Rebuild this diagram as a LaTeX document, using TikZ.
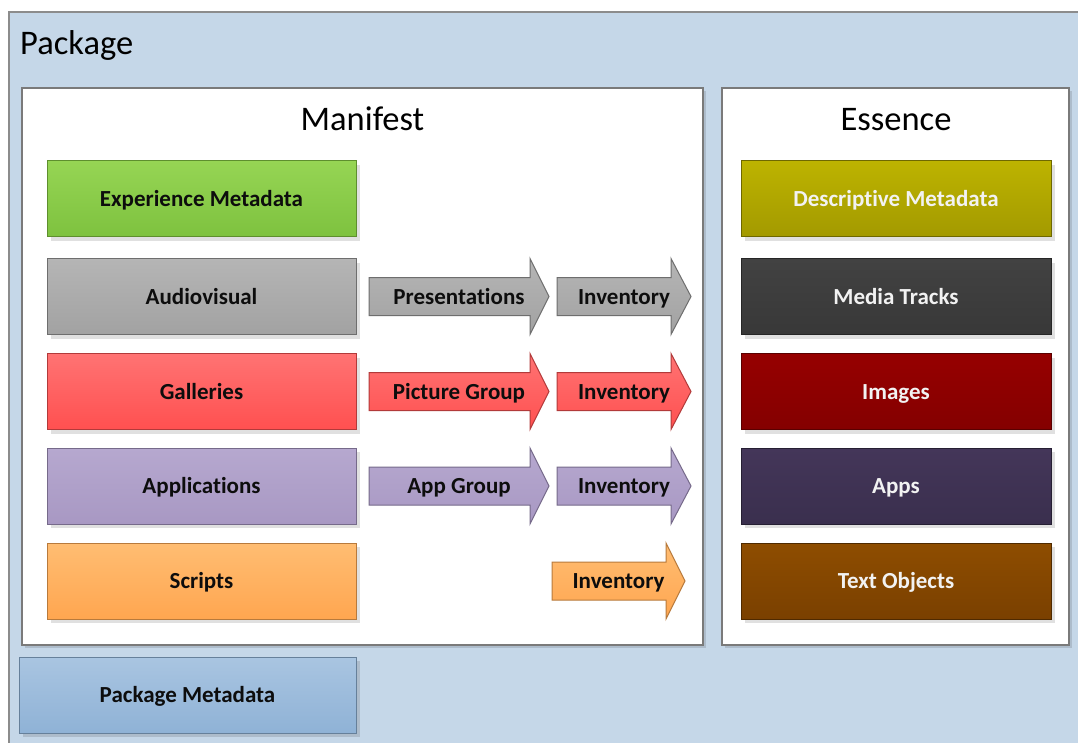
\documentclass[tikz,border=0pt]{standalone}
\usepackage{fontspec}
\setmainfont{Carlito}[Ligatures=NoCommon]
\usetikzlibrary{shadows}
\definecolor{pkgbg}{HTML}{C5D7E8}
\definecolor{pkgline}{HTML}{8C8C8C}
\definecolor{boxline}{HTML}{7A7A7A}
% left column
\definecolor{expT}{HTML}{96D554}\definecolor{expB}{HTML}{7EC23F}\definecolor{expL}{HTML}{5E8F2E}
\definecolor{avT}{HTML}{B5B5B5}\definecolor{avB}{HTML}{A2A2A2}\definecolor{avL}{HTML}{6E6E6E}
\definecolor{galT}{HTML}{FF7373}\definecolor{galB}{HTML}{FF5050}\definecolor{galL}{HTML}{B23A3A}
\definecolor{appT}{HTML}{B6A8CF}\definecolor{appB}{HTML}{A898C3}\definecolor{appL}{HTML}{766A8A}
\definecolor{scrT}{HTML}{FFBD72}\definecolor{scrB}{HTML}{FFA650}\definecolor{scrL}{HTML}{B87A3C}
\definecolor{pmT}{HTML}{A9C5E1}\definecolor{pmB}{HTML}{8FB2D6}\definecolor{pmL}{HTML}{66809A}
% right column
\definecolor{desT}{HTML}{BDB300}\definecolor{desB}{HTML}{A39A00}\definecolor{desL}{HTML}{6E6800}
\definecolor{medT}{HTML}{424242}\definecolor{medB}{HTML}{383838}\definecolor{medL}{HTML}{262626}
\definecolor{imgT}{HTML}{960000}\definecolor{imgB}{HTML}{840000}\definecolor{imgL}{HTML}{5A0000}
\definecolor{apsT}{HTML}{443659}\definecolor{apsB}{HTML}{3A2F4E}\definecolor{apsL}{HTML}{261F33}
\definecolor{txtT}{HTML}{8E4D00}\definecolor{txtB}{HTML}{7A4000}\definecolor{txtL}{HTML}{4F2A00}
\definecolor{lighttext}{HTML}{F2F2F2}
\definecolor{darktext}{HTML}{0D0D0D}
\newcommand\garrow[9]{%
  \path[draw=#8, line width=1pt, top color=#6, bottom color=#7]
    (#2,#5-19) -- (#3,#5-19) -- (#3,#5-38) -- (#4,#5) -- (#3,#5+38)
    -- (#3,#5+19) -- (#2,#5+19) -- cycle;
  \node[lbl] (#1) at ({(#2+#4)/2},#5) {#9};
}
\begin{document}
\begin{tikzpicture}[x=1pt,y=-1pt,
  lbl/.style={font=\fontsize{23}{27}\selectfont\bfseries, text=darktext, inner sep=0pt,
    text height=16pt, text depth=1pt},
  ttl/.style={font=\fontsize{34.5}{40}\selectfont, text=black, inner sep=0pt},
  cbox/.style={draw=boxline, line width=1.2pt, fill=white,
    drop shadow={shadow xshift=3pt, shadow yshift=-3pt, fill=black, opacity=0.12}},
  gbox/.style={line width=1pt, minimum width=309pt, minimum height=76pt,
    inner sep=0pt, outer sep=0pt, text height=16pt, text depth=1pt,
    font=\fontsize{23}{27}\selectfont\bfseries,
    drop shadow={shadow xshift=4pt, shadow yshift=-4pt, fill=black, opacity=0.12}},
  dk/.style={text=darktext},
  lt/.style={text=lighttext}]
\clip (0,0) rectangle (1078,742);
\fill[white] (0,0) rectangle (1078,742);
% package
\path[fill=pkgbg, draw=pkgline, line width=1.2pt] (9,12) rectangle (1100,770);
\node[ttl, anchor=base west] (pkgtitle) at (20,54) {Package};
% manifest & essence containers
\path[cbox] (22,88) rectangle (703,645);
\path[cbox] (722,88) rectangle (1069,645);
\node[ttl, anchor=base] (mantitle) at (362.5,130) {Manifest};
\node[ttl, anchor=base] (esstitle) at (896,130) {Essence};
% left boxes
\node[gbox, dk, top color=expT, bottom color=expB, draw=expL] (exp) at (201.5,198.5) {Experience Metadata};
\node[gbox, dk, top color=avT, bottom color=avB, draw=avL] (av) at (201.5,296.5) {Audiovisual};
\node[gbox, dk, top color=galT, bottom color=galB, draw=galL] (gal) at (201.5,391.5) {Galleries};
\node[gbox, dk, top color=appT, bottom color=appB, draw=appL] (app) at (201.5,486) {Applications};
\node[gbox, dk, top color=scrT, bottom color=scrB, draw=scrL] (scr) at (201.5,581) {Scripts};
\node[gbox, dk, minimum width=337pt, top color=pmT, bottom color=pmB, draw=pmL] (pm) at (187.5,695) {Package Metadata};
% right boxes
\node[gbox, lt, minimum width=310pt, top color=desT, bottom color=desB, draw=desL] (des) at (896,198.5) {Descriptive Metadata};
\node[gbox, lt, minimum width=310pt, top color=medT, bottom color=medB, draw=medL] (med) at (896,296.5) {Media Tracks};
\node[gbox, lt, minimum width=310pt, top color=imgT, bottom color=imgB, draw=imgL] (img) at (896,391.5) {Images};
\node[gbox, lt, minimum width=310pt, top color=apsT, bottom color=apsB, draw=apsL] (aps) at (896,486) {Apps};
\node[gbox, lt, minimum width=310pt, top color=txtT, bottom color=txtB, draw=txtL] (txt) at (896,581) {Text Objects};
% arrows
\garrow{pres}{369}{530}{549}{296.5}{avT}{avB}{avL}{Presentations}
\garrow{inv1}{557}{671}{691}{296.5}{avT}{avB}{avL}{Inventory}
\garrow{picg}{369}{530}{549}{391.5}{galT}{galB}{galL}{Picture Group}
\garrow{inv2}{557}{671}{691}{391.5}{galT}{galB}{galL}{Inventory}
\garrow{appg}{369}{530}{549}{486}{appT}{appB}{appL}{App Group}
\garrow{inv3}{557}{671}{691}{486}{appT}{appB}{appL}{Inventory}
\garrow{inv4}{552}{666}{685}{581}{scrT}{scrB}{scrL}{Inventory}
\end{tikzpicture}
\end{document}
